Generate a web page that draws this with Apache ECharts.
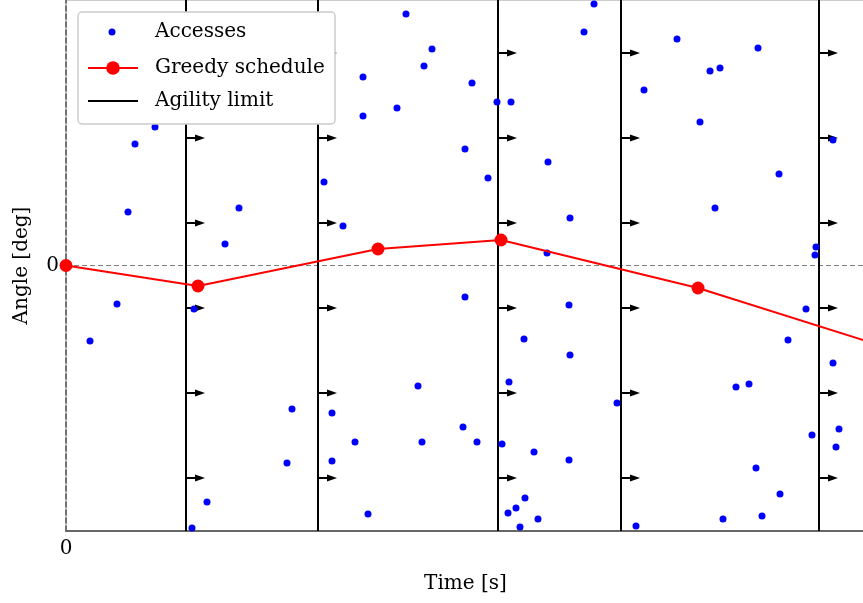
<!DOCTYPE html>
<html>
<head>
<meta charset="utf-8">
<script src="https://cdn.jsdelivr.net/npm/echarts@6/dist/echarts.min.js"></script>
<style>html,body{margin:0;padding:0;background:#fff}#c{width:863px;height:603px}</style>
</head>
<body>
<div id="c"></div>
<script>
// Accesses (time [s], angle [deg])
const accessTime = [
  4.45, 3.45, 3.10, 2.55, 1.20,
  8.65, 7.95, 6.40, 11.30, 11.05, 7.05, 6.30,
  12.90, 14.85, 14.85, 16.55, 17.00, 17.90, 18.30, 20.30, 19.95, 21.10, 21.55, 13.85, 19.95, 17.60, 13.30, 14.45, 13.30, 15.10, 17.80, 19.85, 20.55,
  22.25, 25.90, 26.40, 24.10, 25.20, 24.05, 25.15, 22.90, 25.20, 22.15, 21.80, 23.40, 25.15, 22.95, 22.50, 22.10, 23.60, 22.70, 27.55,
  28.90, 30.55, 32.20, 32.70, 31.70, 34.60, 35.65, 32.45, 37.00, 36.10, 34.15, 33.50, 34.50, 35.70, 34.80, 32.85, 28.50, 37.30,
  38.35, 37.50, 37.45, 38.35, 38.65, 38.50
];
const accessAngle = [
  13.85, 12.15, 5.35, -3.85, -7.55,
  5.75, 2.15, -4.35, -14.35, -19.75, -23.65, -26.25,
  8.35, 18.85, 14.95, 15.75, 25.15, 19.95, 21.65, 18.25, 11.65, 8.75, 16.35, 3.95, -3.15, -12.05, -14.75, -17.65, -19.55, -24.85, -17.65, -16.15, -17.65,
  16.35, 23.35, 26.15, 10.35, 4.75, 1.25, -3.95, -7.35, -8.95, -11.65, -17.85, -18.65, -19.45, -23.25, -24.25, -24.75, -25.35, -26.15, -13.75,
  17.55, 22.65, 19.45, 19.75, 14.35, 21.75, 9.15, 5.75, -4.35, -7.45, -11.85, -12.15, -20.25, -22.85, -25.05, -25.35, -26.05, -16.95,
  12.55, 1.85, 1.05, -9.75, -16.35, -18.15
];
// Greedy schedule
const scheduleTime = [0, 6.60, 15.60, 21.75, 31.60, 42.0];
const scheduleAngle = [0, -2.05, 1.65, 2.55, -2.25, -8.8];
// Agility limits
const limitTimes = [6.0, 12.6, 21.6, 27.75, 37.65];
const arrowAngles = [21.25, 12.75, 4.25, -4.25, -12.75, -21.25];
// Axis ranges / ticks
const xMin = 0, xMax = 39.95;
const yMin = -26.55, yMax = 26.55;
const xTickLabels = ['0'];
const yTickLabels = ['0'];

const FONT = 'DejaVu Serif';
const accessData = accessTime.map((t, i) => [t, accessAngle[i]]);
const scheduleData = scheduleTime.map((t, i) => [t, scheduleAngle[i]]);
const arrowData = [];
limitTimes.forEach(t => arrowAngles.forEach(a => arrowData.push([t, a])));
const limitData = limitTimes.map(t => [t, 0]);

const chart = echarts.init(document.getElementById('c'), null, {renderer: 'canvas'});
chart.setOption({
  animation: false,
  backgroundColor: '#fff',
  textStyle: {fontFamily: FONT, color: '#000'},
  grid: {left: 66, right: -2, top: 0, bottom: 72, show: true, borderColor: '#999', borderWidth: 1,
    backgroundColor: 'transparent', outerBoundsMode: 'none', containLabel: false},
  xAxis: {
    type: 'value', min: xMin, max: xMax, interval: 1000,
    name: 'Time [s]', nameLocation: 'middle', nameGap: 43,
    nameTextStyle: {fontFamily: FONT, fontSize: 20, color: '#000'},
    axisLine: {show: true, onZero: false, lineStyle: {color: '#666', width: 2}},
    axisTick: {show: false},
    splitLine: {show: false},
    axisLabel: {fontFamily: FONT, fontSize: 20, color: '#000', margin: 8,
      formatter: v => (v === 0 ? xTickLabels[0] : '')}
  },
  yAxis: {
    type: 'value', min: yMin, max: yMax, interval: yMax,
    name: 'Angle [deg]', nameLocation: 'middle', nameGap: 34,
    nameTextStyle: {fontFamily: FONT, fontSize: 20, color: '#000'},
    axisLine: {show: true, onZero: false, lineStyle: {color: '#555', width: 1.5, type: [5, 3]}},
    axisTick: {show: false},
    splitLine: {show: false},
    axisLabel: {fontFamily: FONT, fontSize: 20, color: '#000', margin: 7,
      formatter: v => (Math.abs(v) < 1e-9 ? yTickLabels[0] : '')}
  },
  graphic: [{
    type: 'rect', z: 10,
    shape: {x: 78, y: 12, width: 257, height: 112, r: 4},
    style: {fill: '#ffffff', stroke: '#cccccc', lineWidth: 1.5}
  }],
  legend: [{
    z: 20, left: 108.5, top: 21, orient: 'vertical', padding: 0,
    itemWidth: 7, itemHeight: 7,
    data: [{name: 'Accesses', icon: 'circle'}],
    textStyle: {fontFamily: FONT, fontSize: 20, color: '#000', lineHeight: 22, padding: [0, 0, 0, 34.5]}
  }, {
    z: 20, left: 87, top: 57, orient: 'vertical', padding: 0,
    itemWidth: 50, itemHeight: 17, itemGap: 11,
    data: ['Greedy schedule', {name: 'Agility limit', itemStyle: {color: 'rgba(0,0,0,0)', borderWidth: 0}}],
    textStyle: {fontFamily: FONT, fontSize: 20, color: '#000', lineHeight: 22, padding: [0, 0, 0, 12]}
  }],
  series: [
    {
      name: 'Agility limit', type: 'line', data: [], symbol: 'none',
      itemStyle: {color: '#000'}, lineStyle: {color: '#000', width: 2}
    },
    {
      type: 'custom', z: 2, silent: true, data: limitData,
      renderItem: (params, api) => {
        const top = api.coord([api.value(0), yMax]);
        const bot = api.coord([api.value(0), yMin]);
        return {type: 'line', shape: {x1: top[0], y1: top[1], x2: bot[0], y2: bot[1]},
          style: {stroke: '#000', lineWidth: 2}};
      }
    },
    {
      type: 'custom', z: 2, silent: true, data: arrowData,
      renderItem: (params, api) => {
        const p = api.coord([api.value(0), api.value(1)]);
        return {type: 'group', children: [
          {type: 'line', shape: {x1: p[0], y1: p[1], x2: p[0] + 11, y2: p[1]}, style: {stroke: '#000', lineWidth: 2}},
          {type: 'polygon', shape: {points: [[p[0] + 9, p[1] - 3.5], [p[0] + 19, p[1]], [p[0] + 9, p[1] + 3.5]]}, style: {fill: '#000'}}
        ]};
      }
    },
    {
      name: 'Accesses', type: 'scatter', z: 4, data: accessData,
      symbol: 'circle', symbolSize: 7, itemStyle: {color: '#0000ff', opacity: 1}
    },
    {
      name: 'Greedy schedule', type: 'line', z: 5, data: scheduleData, clip: true,
      symbol: 'circle', symbolSize: 13, showAllSymbol: true,
      itemStyle: {color: '#ff0000'}, lineStyle: {color: '#ff0000', width: 2}
    },
    {
      type: 'line', z: 1, data: [[xMin, 0], [xMax, 0]], symbol: 'none', silent: true,
      lineStyle: {color: '#808080', width: 1, type: [5, 3]}
    }
  ]
});
</script>
</body>
</html>
